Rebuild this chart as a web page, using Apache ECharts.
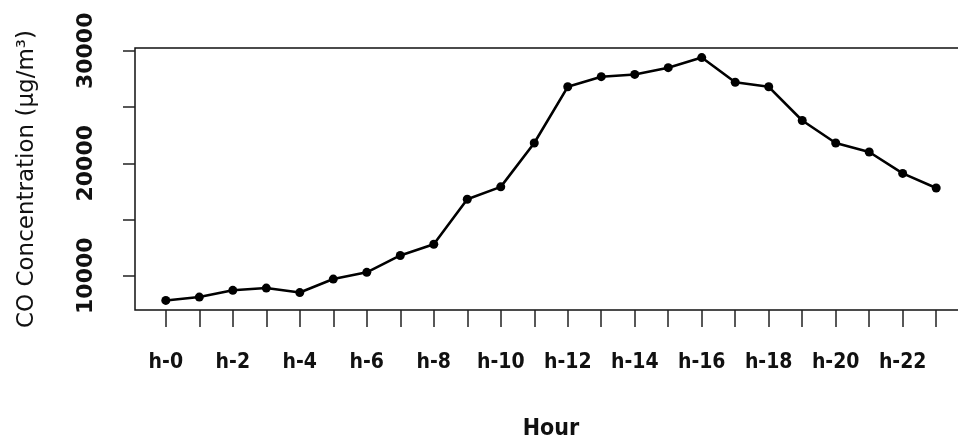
<!DOCTYPE html>
<html>
<head>
<meta charset="utf-8">
<script src="https://cdn.jsdelivr.net/npm/echarts@6/dist/echarts.min.js"></script>
<style>
html,body{margin:0;padding:0;background:#fff;}
#chart{width:958px;height:438px;}
</style>
</head>
<body>
<div id="chart"></div>
<script>
// Data
const hours = [0,1,2,3,4,5,6,7,8,9,10,11,12,13,14,15,16,17,18,19,20,21,22,23];
const coValues = [7800,8100,8700,8900,8500,9700,10300,11800,12800,16800,17900,21800,
                  26800,27700,27900,28500,29400,27200,26800,23800,21800,21000,19100,17800];
const xLabelHours = [0,2,4,6,8,10,12,14,16,18,20,22];
const yTickValues = [10000,15000,20000,25000,30000];
const yLabelValues = [10000,20000,30000];

const seriesData = hours.map((h,i)=>[h, coValues[i]]);

const chart = echarts.init(document.getElementById('chart'), null, {renderer:'canvas'});
const narrow = "'Liberation Sans Narrow','DejaVu Sans Condensed',sans-serif";
chart.setOption({
  animation:false,
  backgroundColor:'#fff',
  grid:{left:135, top:48, bottom:128, right:-9, outerBoundsMode:'none', containLabel:false,
        show:true, borderColor:'#111', borderWidth:1.5, backgroundColor:'transparent'},
  xAxis:{
    type:'value', min:-0.92, max:23.92,
    splitLine:{show:false},
    axisLine:{show:false, onZero:false},
    axisTick:{show:true, length:17, customValues:hours, lineStyle:{color:'#222', width:1.5}},
    axisLabel:{customValues:xLabelHours, formatter:v=>'h-'+v, margin:42,
      fontFamily:narrow, fontWeight:'bold', fontSize:21, color:'#111'},
    name:'Hour', nameLocation:'middle', nameGap:108,
    nameTextStyle:{fontFamily:narrow, fontWeight:'bold', fontSize:23, color:'#111'}
  },
  yAxis:{
    type:'value', min:6950, max:30250,
    splitLine:{show:false},
    axisLine:{show:false, onZero:false},
    axisTick:{show:true, length:12, customValues:yTickValues, lineStyle:{color:'#222', width:1.5}},
    axisLabel:{customValues:yLabelValues, rotate:90, margin:38, formatter:v=>String(v),
      fontFamily:'DejaVu Sans', fontWeight:'bold', fontSize:22, color:'#111'},
    name:'CO Concentration (µg/m³)', nameLocation:'middle', nameRotate:90, nameGap:96,
    nameTextStyle:{fontFamily:'DejaVu Sans', fontSize:23, color:'#111'}
  },
  series:[{
    type:'line', data:seriesData,
    symbol:'circle', symbolSize:9,
    lineStyle:{color:'#000', width:2.6},
    itemStyle:{color:'#000'}
  }]
});
</script>
</body>
</html>
